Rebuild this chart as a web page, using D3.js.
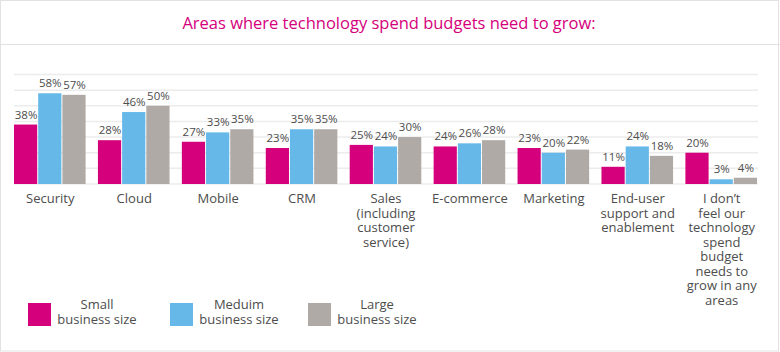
<!DOCTYPE html>
<html>
<head>
<meta charset="utf-8">
<script src="https://cdn.jsdelivr.net/npm/d3@7"></script>
<style>
  body { margin: 0; background: #fff; }
  text { font-family: "Open Sans", "Noto Sans", sans-serif; }
</style>
</head>
<body>
<div id="chart"></div>
<script>
// data
var categories = [
  ["Security"],
  ["Cloud"],
  ["Mobile"],
  ["CRM"],
  ["Sales", "(including", "customer", "service)"],
  ["E-commerce"],
  ["Marketing"],
  ["End-user", "support and", "enablement"],
  ["I don\u2019t", "feel our", "technology", "spend", "budget", "needs to", "grow in any", "areas"]
];
var seriesNames = ["Small", "Meduim", "Large"];
var small = [38, 28, 27, 23, 25, 24, 23, 11, 20];
var medium = [58, 46, 33, 35, 24, 26, 20, 24, 3];
var large = [57, 50, 35, 35, 30, 28, 22, 18, 4];
var gridTicks = [0, 10, 20, 30, 40, 50, 60, 70];

var colors = ["#d5007b", "#65b8e7", "#b0aaa6"];

var W = 780, H = 352;
var svg = d3.select("#chart").append("svg")
  .attr("width", W).attr("height", H);

// frame
svg.append("rect")
  .attr("x", 0.5).attr("y", 0.5)
  .attr("width", W - 2).attr("height", H - 1.5)
  .attr("fill", "none").attr("stroke", "#e2e2e2");
svg.append("line")
  .attr("x1", 0).attr("x2", W).attr("y1", 44.5).attr("y2", 44.5)
  .attr("stroke", "#e2e2e2");

// title
svg.append("text")
  .attr("x", 389).attr("y", 29)
  .attr("text-anchor", "middle")
  .attr("fill", "#d5007b")
  .style("font-size", "16.5px")
  .text("Areas where technology spend budgets need to grow:");

var rows = categories.map(function (c, i) {
  return { key: i, label: c, values: [small[i], medium[i], large[i]] };
});

var x0 = d3.scaleBand()
  .domain(rows.map(function (d) { return d.key; }))
  .range([14, 758])
  .paddingInner(0.135)
  .paddingOuter(0);

var x1 = d3.scaleBand()
  .domain([0, 1, 2])
  .range([0, x0.bandwidth()]);

var y = d3.scaleLinear().domain([0, 70]).range([184, 74.5]);

// gridlines
svg.append("g")
  .selectAll("line")
  .data(gridTicks)
  .enter()
  .append("line")
  .attr("x1", 14).attr("x2", 758)
  .attr("y1", function (d) { return y(d); })
  .attr("y2", function (d) { return y(d); })
  .attr("stroke", "#ececec")
  .attr("stroke-width", 1.5);

var groups = svg.selectAll(".grp")
  .data(rows)
  .enter()
  .append("g")
  .attr("class", "grp")
  .attr("transform", function (d) { return "translate(" + x0(d.key) + ",0)"; });

groups.selectAll("rect")
  .data(function (d) { return d.values; })
  .enter()
  .append("rect")
  .attr("x", function (d, i) { return x1(i); })
  .attr("width", x1.bandwidth() - 1)
  .attr("y", function (d) { return y(d); })
  .attr("height", function (d) { return y(0) - y(d); })
  .attr("fill", function (d, i) { return colors[i]; });

groups.selectAll(".val")
  .data(function (d) { return d.values; })
  .enter()
  .append("text")
  .attr("class", "val")
  .attr("x", function (d, i) { return x1(i) + x1.bandwidth() / 2; })
  .attr("y", function (d) { return y(d) - 6; })
  .attr("text-anchor", "middle")
  .attr("fill", "#4d4d4d")
  .style("font-size", "11.5px")
  .text(function (d) { return d + "%"; });

// category labels
groups.append("text")
  .attr("text-anchor", "middle")
  .attr("fill", "#4d4d4d")
  .style("font-size", "13px")
  .selectAll("tspan")
  .data(function (d) { return d.label; })
  .enter()
  .append("tspan")
  .attr("x", x0.bandwidth() / 2)
  .attr("y", function (d, i) { return 203 + i * 14.5; })
  .text(function (d) { return d; });

// legend
var legendX = [28, 170, 308];
var legend = svg.selectAll(".leg")
  .data(seriesNames)
  .enter()
  .append("g")
  .attr("class", "leg")
  .attr("transform", function (d, i) { return "translate(" + legendX[i] + ",303)"; });

legend.append("rect")
  .attr("width", 23).attr("height", 23)
  .attr("fill", function (d, i) { return colors[i]; });

legend.append("text")
  .attr("text-anchor", "middle")
  .attr("fill", "#4d4d4d")
  .style("font-size", "13px")
  .selectAll("tspan")
  .data(function (d) { return [d, "business size"]; })
  .enter()
  .append("tspan")
  .attr("x", 69)
  .attr("y", function (d, i) { return 6 + i * 14.5; })
  .text(function (d) { return d; });
</script>
</body>
</html>
